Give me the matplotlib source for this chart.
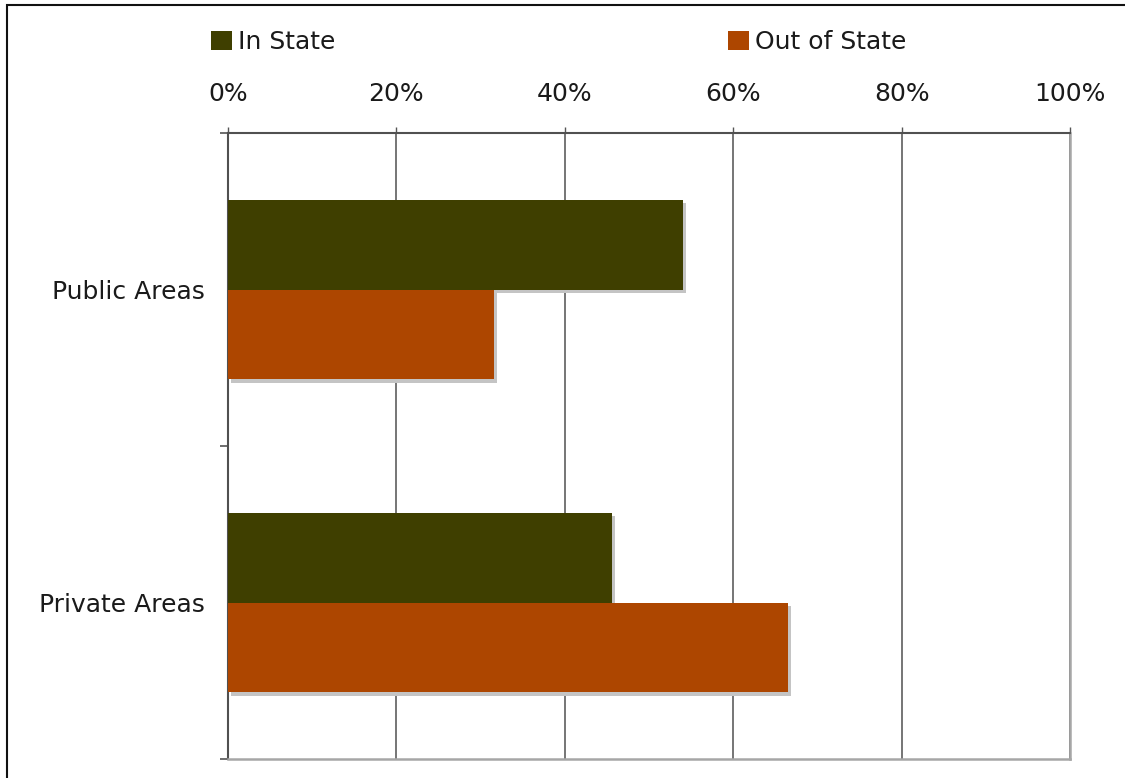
import matplotlib
matplotlib.use("Agg")
import matplotlib.pyplot as plt
import matplotlib.patheffects as pe
from matplotlib.patches import Rectangle, Patch
import numpy as np

categories = ["Public Areas", "Private Areas"]
series_names = ["In State", "Out of State"]
in_state = [54.0, 45.6]
out_of_state = [31.6, 66.5]
x_ticks = [0, 20, 40, 60, 80, 100]
x_tick_labels = ["0%", "20%", "40%", "60%", "80%", "100%"]
colors = ["#3F3F00", "#AD4600"]

plt.rcParams['font.family'] = ['DejaVu Sans']
FS = 18

fig = plt.figure(figsize=(11.25, 7.78), dpi=100)
ax = fig.add_axes([228/1125, 1-759/778, 842/1125, 626/778])

y = np.arange(len(categories))
h = 0.2875
shadow = [pe.SimplePatchShadow(offset=(2.4, -2.4), shadow_rgbFace="#c4c4c4", alpha=1.0), pe.Normal()]
for vals, off, col, name in [(in_state, -h/2, colors[0], series_names[0]),
                             (out_of_state, h/2, colors[1], series_names[1])]:
    bars = ax.barh(y + off, vals, height=h, color=col, label=name, zorder=3)
    for b in bars:
        b.set_path_effects(shadow)

ax.set_xlim(0, 100)
ax.set_ylim(1.5, -0.5)
ax.xaxis.tick_top()
ax.set_xticks(x_ticks)
ax.set_xticklabels(x_tick_labels, fontsize=FS, color="#1a1a1a")
ax.tick_params(axis='x', which='major', direction='out', length=4.3, width=1.0,
               color="#555555", pad=15, bottom=False, top=True)
ax.grid(axis='x', color="#505050", linewidth=1.1, zorder=0)

ax.set_yticks(y)
ax.set_yticklabels(categories, fontsize=FS, color="#1a1a1a")
ax.tick_params(axis='y', which='major', length=0, pad=16.5)
ax.set_yticks([-0.5, 0.5, 1.5], minor=True)
ax.tick_params(axis='y', which='minor', length=5.8, width=1.2, color="#555555", direction='out')

for s in ['left', 'top']:
    ax.spines[s].set_color("#505050")
    ax.spines[s].set_linewidth(1.5)
for s in ['right', 'bottom']:
    ax.spines[s].set_color("#a6a6a6")
    ax.spines[s].set_linewidth(1.8)

handles = [Patch(facecolor=colors[0]), Patch(facecolor=colors[1])]
leg = fig.legend(handles, series_names, loc='center left', bbox_to_anchor=(211/1125, 1-42/778),
                 ncol=2, frameon=False, fontsize=FS, handlelength=0.83, handleheight=0.83,
                 handletextpad=0.25, columnspacing=15.7, borderpad=0, borderaxespad=0)
for t in leg.get_texts():
    t.set_color("#1a1a1a")

fig.patches.append(Rectangle((7/1125, -0.05), 1.2, 1.05 - 5/778, transform=fig.transFigure,
                             fill=False, edgecolor="#111111", linewidth=1.5))

fig.savefig("out.png", dpi=100)
